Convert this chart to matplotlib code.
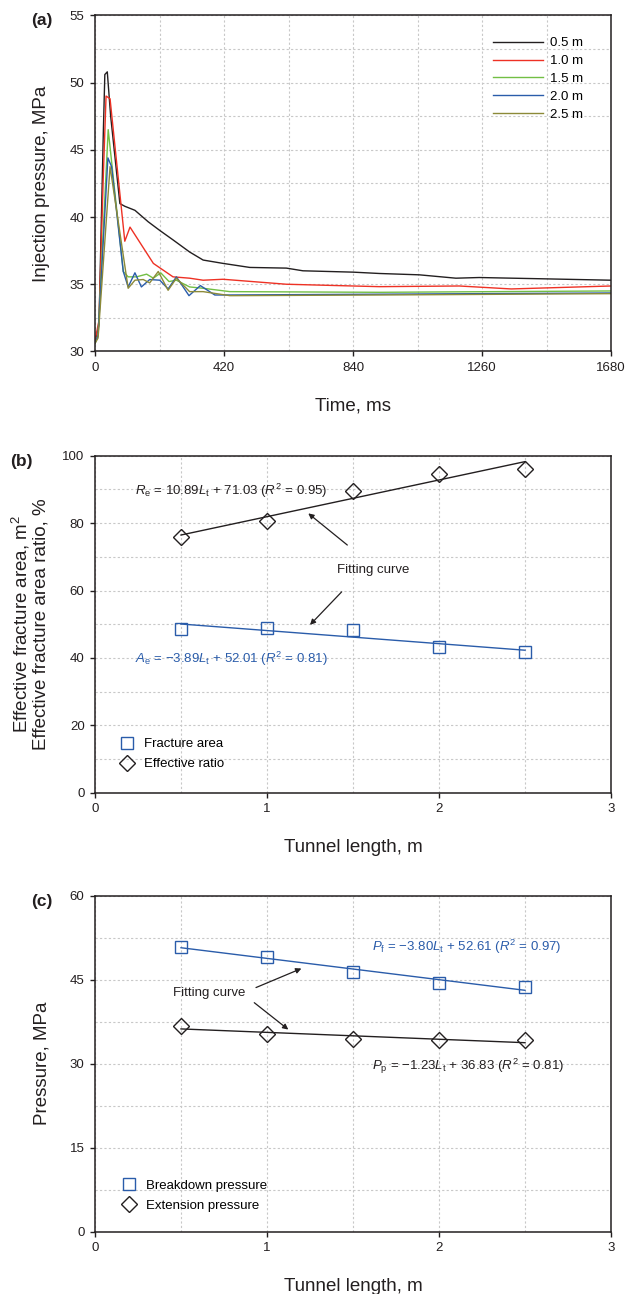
#!/usr/bin/env python

# Injection pressure history and fitting of fracture area / pressures vs tunnel length

import matplotlib
matplotlib.use('Agg')
import matplotlib.pyplot as plt
from matplotlib.ticker import MultipleLocator
from matplotlib.lines import Line2D

plt.rcParams['font.family'] = ['Liberation Sans', 'DejaVu Sans']
plt.rcParams['mathtext.fontset'] = 'custom'
plt.rcParams['mathtext.rm'] = 'Liberation Sans'
plt.rcParams['mathtext.it'] = 'Liberation Sans:italic'
plt.rcParams['mathtext.bf'] = 'Liberation Sans:bold'

# ---- data: (a) injection pressure vs time for each tunnel length ----
t_05 = [0, 13, 27, 32, 40, 51, 81, 97, 130, 173, 211, 254, 308, 352, 417, 504,
        623, 677, 840, 926, 1056, 1175, 1251, 1468, 1680]
p_05 = [30.7, 32.0, 46.2, 50.6, 50.8, 47.5, 41.0, 40.8, 40.5, 39.65, 39.0, 38.3,
        37.4, 36.8, 36.55, 36.25, 36.2, 36.0, 35.9, 35.8, 35.7, 35.45, 35.5, 35.4, 35.3]

t_10 = [0, 13, 27, 36, 49, 97, 114, 190, 254, 308, 352, 417, 623, 840, 926,
        1186, 1355, 1680]
p_10 = [30.8, 32.3, 43.0, 49.0, 48.8, 38.2, 39.25, 36.55, 35.55, 35.45, 35.3,
        35.37, 35.0, 34.87, 34.82, 34.87, 34.65, 34.87]

t_15 = [0, 10, 43, 92, 108, 135, 168, 190, 214, 241, 265, 308, 352, 439, 926, 1680]
p_15 = [30.6, 31.2, 46.5, 35.95, 35.55, 35.55, 35.75, 35.45, 35.85, 35.2, 35.3,
        34.8, 34.7, 34.45, 34.4, 34.5]

t_20 = [0, 10, 42, 54, 92, 108, 130, 151, 178, 211, 238, 265, 306, 343, 390, 439,
        840, 1260, 1680]
p_20 = [30.6, 31.2, 44.4, 43.75, 35.95, 34.8, 35.85, 34.8, 35.35, 35.3, 34.65,
        35.55, 34.15, 34.9, 34.2, 34.2, 34.25, 34.3, 34.35]

t_25 = [0, 10, 49, 108, 130, 157, 178, 206, 238, 265, 308, 352, 439, 926, 1680]
p_25 = [30.6, 31.0, 43.75, 34.7, 35.3, 35.35, 35.1, 35.95, 34.55, 35.45, 34.45,
        34.45, 34.15, 34.2, 34.3]

series_labels = ['0.5 m', '1.0 m', '1.5 m', '2.0 m', '2.5 m']

# ---- data: (b) and (c) vs tunnel length ----
tunnel_len = [0.5, 1.0, 1.5, 2.0, 2.5]
frac_area = [48.7, 49.0, 48.4, 43.1, 41.9]
eff_ratio = [75.8, 80.6, 89.5, 94.6, 96.1]
breakdown_p = [50.9, 49.0, 46.4, 44.4, 43.7]
extension_p = [36.7, 35.3, 34.4, 34.2, 34.2]

# linear fits (slope, intercept)
fit_area = (-3.89, 52.01)
fit_ratio = (10.89, 71.03)
fit_break = (-3.80, 52.61)
fit_ext = (-1.23, 36.83)

# ---- style ----
dark = '#231f20'
blue = '#2a5caa'
colors = [dark, '#ee3124', '#72bf44', '#2a5caa', '#8c8a38']
tick_fs = 9.5
label_fs = 13.5
txt_fs = 9.5
ms = 8

fig = plt.figure(figsize=(6.25, 12.94), dpi=100)

left, width = 0.152, 0.8256
ax1 = fig.add_axes([left, 0.7284, width, 0.2597])
ax2 = fig.add_axes([left, 0.3874, width, 0.2604])
ax3 = fig.add_axes([left, 0.0481, width, 0.2597])


def style_axes(ax):
    for sp in ax.spines.values():
        sp.set_color(dark)
        sp.set_linewidth(1.1)
    ax.tick_params(which='major', direction='out', length=3.5, width=1.0,
                   color=dark, labelcolor=dark, labelsize=tick_fs, pad=4)
    ax.tick_params(which='minor', length=0)
    ax.tick_params(top=False, right=False)
    ax.grid(True, which='both', color='#c8c8c8', linestyle=(0, (2, 2)), linewidth=0.8)
    ax.set_axisbelow(True)


def fit_line(coef, xs):
    return [coef[0] * x + coef[1] for x in xs]


# (a) injection pressure curves
for t, p, c, lab in zip([t_05, t_10, t_15, t_20, t_25],
                        [p_05, p_10, p_15, p_20, p_25], colors, series_labels):
    ax1.plot(t, p, color=c, lw=1.0, label=lab)
ax1.set_xlim(0, 1680)
ax1.set_ylim(30, 55)
ax1.xaxis.set_major_locator(MultipleLocator(420))
ax1.xaxis.set_minor_locator(MultipleLocator(210))
ax1.yaxis.set_major_locator(MultipleLocator(5))
ax1.yaxis.set_minor_locator(MultipleLocator(2.5))
style_axes(ax1)
ax1.set_xlabel('Time, ms', fontsize=label_fs, color=dark)
ax1.set_ylabel('Injection pressure, MPa', fontsize=label_fs, color=dark, va='center')
ax1.xaxis.set_label_coords(0.5, -0.137)
ax1.yaxis.set_label_coords(-0.103, 0.5)
ax1.legend(loc='upper left', bbox_to_anchor=(0.771, 0.935), frameon=False,
           fontsize=txt_fs, handlelength=3.8, handletextpad=0.55,
           labelspacing=0.42, borderpad=0, borderaxespad=0)
fig.text(41.5 / 625, 1 - 20.7 / 1294, '(a)', fontsize=12.5, fontweight='bold',
         color=dark, ha='center', va='center')

# (b) fracture area and effective ratio
ax2.plot(tunnel_len, fit_line(fit_ratio, tunnel_len), color=dark, lw=1.0)
ax2.plot(tunnel_len, fit_line(fit_area, tunnel_len), color=blue, lw=1.0)
ax2.plot(tunnel_len, frac_area, 's', ms=ms, mfc='none', mec=blue, mew=1.0)
ax2.plot(tunnel_len, eff_ratio, 'D', ms=ms, mfc='none', mec=dark, mew=1.0)
ax2.set_xlim(0, 3)
ax2.set_ylim(0, 100)
ax2.xaxis.set_major_locator(MultipleLocator(1))
ax2.xaxis.set_minor_locator(MultipleLocator(0.5))
ax2.yaxis.set_major_locator(MultipleLocator(20))
ax2.yaxis.set_minor_locator(MultipleLocator(10))
style_axes(ax2)
ax2.set_xlabel('Tunnel length, m', fontsize=label_fs, color=dark)
ax2.set_ylabel('Effective fracture area, m$^2$\nEffective fracture area ratio, %',
               fontsize=label_fs, color=dark, va='center', linespacing=1.05)
ax2.xaxis.set_label_coords(0.5, -0.137)
ax2.yaxis.set_label_coords(-0.126, 0.5)
ax2.text(0.235, 89.6, r'$R_\mathrm{e}$ = 10.89$L_\mathrm{t}$ + 71.03 ($R^2$ = 0.95)',
         fontsize=txt_fs, color=dark, ha='left', va='center')
ax2.text(0.235, 39.6, r'$A_\mathrm{e}$ = $-$3.89$L_\mathrm{t}$ + 52.01 ($R^2$ = 0.81)',
         fontsize=txt_fs, color=blue, ha='left', va='center')
ax2.text(1.62, 66.1, 'Fitting curve', fontsize=txt_fs, color=dark,
         ha='center', va='center')
arrow_kw = dict(arrowstyle='-|>', color=dark, lw=0.9, mutation_scale=8,
                shrinkA=0, shrinkB=0)
ax2.annotate('', xy=(1.24, 82.9), xytext=(1.467, 73.5), arrowprops=arrow_kw)
ax2.annotate('', xy=(1.25, 49.8), xytext=(1.434, 59.6), arrowprops=arrow_kw)
leg_b = [Line2D([], [], ls='none', marker='s', ms=ms, mfc='none', mec=blue, mew=1.0),
         Line2D([], [], ls='none', marker='D', ms=ms, mfc='none', mec=dark, mew=1.0)]
ax2.legend(leg_b, ['Fracture area', 'Effective ratio'], loc='lower left',
           bbox_to_anchor=(0.0465, 0.0665), frameon=False, fontsize=txt_fs,
           handlelength=1.2, handletextpad=0.7, labelspacing=0.58,
           borderpad=0, borderaxespad=0)
fig.text(21 / 625, 1 - 461.7 / 1294, '(b)', fontsize=12.5, fontweight='bold',
         color=dark, ha='center', va='center')

# (c) breakdown and extension pressure
ax3.plot(tunnel_len, fit_line(fit_break, tunnel_len), color=blue, lw=1.0)
ax3.plot(tunnel_len, fit_line(fit_ext, tunnel_len), color=dark, lw=1.0)
ax3.plot(tunnel_len, breakdown_p, 's', ms=ms, mfc='none', mec=blue, mew=1.0)
ax3.plot(tunnel_len, extension_p, 'D', ms=ms, mfc='none', mec=dark, mew=1.0)
ax3.set_xlim(0, 3)
ax3.set_ylim(0, 60)
ax3.xaxis.set_major_locator(MultipleLocator(1))
ax3.xaxis.set_minor_locator(MultipleLocator(0.5))
ax3.yaxis.set_major_locator(MultipleLocator(15))
ax3.yaxis.set_minor_locator(MultipleLocator(7.5))
style_axes(ax3)
ax3.set_xlabel('Tunnel length, m', fontsize=label_fs, color=dark)
ax3.set_ylabel('Pressure, MPa', fontsize=label_fs, color=dark, va='center')
ax3.xaxis.set_label_coords(0.5, -0.137)
ax3.yaxis.set_label_coords(-0.103, 0.5)
ax3.text(1.61, 50.9, r'$P_\mathrm{f}$ = $-$3.80$L_\mathrm{t}$ + 52.61 ($R^2$ = 0.97)',
         fontsize=txt_fs, color=blue, ha='left', va='center')
ax3.text(1.61, 29.5, r'$P_\mathrm{p}$ = $-$1.23$L_\mathrm{t}$ + 36.83 ($R^2$ = 0.81)',
         fontsize=txt_fs, color=dark, ha='left', va='center')
ax3.text(0.662, 42.6, 'Fitting curve', fontsize=txt_fs, color=dark,
         ha='center', va='center')
ax3.annotate('', xy=(1.20, 47.0), xytext=(0.936, 43.6), arrowprops=arrow_kw)
ax3.annotate('', xy=(1.124, 36.1), xytext=(0.926, 40.9), arrowprops=arrow_kw)
leg_c = [Line2D([], [], ls='none', marker='s', ms=ms, mfc='none', mec=blue, mew=1.0),
         Line2D([], [], ls='none', marker='D', ms=ms, mfc='none', mec=dark, mew=1.0)]
ax3.legend(leg_c, ['Breakdown pressure', 'Extension pressure'], loc='lower left',
           bbox_to_anchor=(0.05, 0.06), frameon=False, fontsize=txt_fs,
           handlelength=1.2, handletextpad=0.7, labelspacing=0.58,
           borderpad=0, borderaxespad=0)
fig.text(42 / 625, 1 - 901.7 / 1294, '(c)', fontsize=12.5, fontweight='bold',
         color=dark, ha='center', va='center')

plt.savefig('out.png', dpi=100)
